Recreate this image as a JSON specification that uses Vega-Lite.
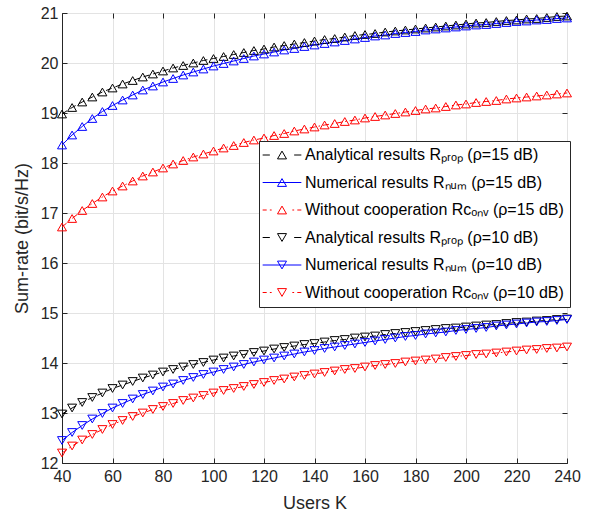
{
"$schema": "https://vega.github.io/schema/vega-lite/v6.json",
"width": 505,
"height": 450,
"autosize": "none",
"padding": {"left": 62, "top": 13, "right": 23, "bottom": 50},
"background": "white",
"config": {
  "view": {"stroke": "#262626", "strokeWidth": 1},
  "font": "Liberation Sans",
  "axis": {"gridColor": "#e3e3e3", "gridWidth": 1, "domainColor": "#262626", "tickColor": "#262626", "labelColor": "#262626", "titleColor": "#262626", "labelFont": "Liberation Sans", "titleFont": "Liberation Sans", "labelFontSize": 16, "titleFontSize": 18, "titleFontWeight": "normal", "tickSize": -5, "tickWidth": 1, "labelFlush": false}
},
"datasets": {"d": [
{"s":"a15","K":40,"v":18.98},{"s":"a15","K":44,"v":19.11},{"s":"a15","K":48,"v":19.22},{"s":"a15","K":52,"v":19.32},{"s":"a15","K":56,"v":19.42},{"s":"a15","K":60,"v":19.50},{"s":"a15","K":64,"v":19.58},{"s":"a15","K":68,"v":19.65},{"s":"a15","K":72,"v":19.72},{"s":"a15","K":76,"v":19.78},{"s":"a15","K":80,"v":19.84},{"s":"a15","K":84,"v":19.90},{"s":"a15","K":88,"v":19.95},{"s":"a15","K":92,"v":20.00},{"s":"a15","K":96,"v":20.05},{"s":"a15","K":100,"v":20.09},{"s":"a15","K":104,"v":20.13},{"s":"a15","K":108,"v":20.17},{"s":"a15","K":112,"v":20.21},{"s":"a15","K":116,"v":20.25},{"s":"a15","K":120,"v":20.28},{"s":"a15","K":124,"v":20.32},{"s":"a15","K":128,"v":20.35},{"s":"a15","K":132,"v":20.38},{"s":"a15","K":136,"v":20.41},{"s":"a15","K":140,"v":20.44},{"s":"a15","K":144,"v":20.47},{"s":"a15","K":148,"v":20.49},{"s":"a15","K":152,"v":20.52},{"s":"a15","K":156,"v":20.55},{"s":"a15","K":160,"v":20.57},{"s":"a15","K":164,"v":20.59},{"s":"a15","K":168,"v":20.62},{"s":"a15","K":172,"v":20.64},{"s":"a15","K":176,"v":20.66},{"s":"a15","K":180,"v":20.68},{"s":"a15","K":184,"v":20.70},{"s":"a15","K":188,"v":20.72},{"s":"a15","K":192,"v":20.74},{"s":"a15","K":196,"v":20.76},{"s":"a15","K":200,"v":20.78},{"s":"a15","K":204,"v":20.80},{"s":"a15","K":208,"v":20.81},{"s":"a15","K":212,"v":20.83},{"s":"a15","K":216,"v":20.85},{"s":"a15","K":220,"v":20.86},{"s":"a15","K":224,"v":20.88},{"s":"a15","K":228,"v":20.89},{"s":"a15","K":232,"v":20.91},{"s":"a15","K":236,"v":20.93},{"s":"a15","K":240,"v":20.94},
{"s":"n15","K":40,"v":18.36},{"s":"n15","K":44,"v":18.56},{"s":"n15","K":48,"v":18.73},{"s":"n15","K":52,"v":18.89},{"s":"n15","K":56,"v":19.03},{"s":"n15","K":60,"v":19.15},{"s":"n15","K":64,"v":19.26},{"s":"n15","K":68,"v":19.36},{"s":"n15","K":72,"v":19.46},{"s":"n15","K":76,"v":19.54},{"s":"n15","K":80,"v":19.62},{"s":"n15","K":84,"v":19.69},{"s":"n15","K":88,"v":19.76},{"s":"n15","K":92,"v":19.82},{"s":"n15","K":96,"v":19.88},{"s":"n15","K":100,"v":19.94},{"s":"n15","K":104,"v":19.99},{"s":"n15","K":108,"v":20.04},{"s":"n15","K":112,"v":20.09},{"s":"n15","K":116,"v":20.14},{"s":"n15","K":120,"v":20.18},{"s":"n15","K":124,"v":20.22},{"s":"n15","K":128,"v":20.26},{"s":"n15","K":132,"v":20.29},{"s":"n15","K":136,"v":20.33},{"s":"n15","K":140,"v":20.36},{"s":"n15","K":144,"v":20.39},{"s":"n15","K":148,"v":20.42},{"s":"n15","K":152,"v":20.45},{"s":"n15","K":156,"v":20.48},{"s":"n15","K":160,"v":20.51},{"s":"n15","K":164,"v":20.54},{"s":"n15","K":168,"v":20.56},{"s":"n15","K":172,"v":20.59},{"s":"n15","K":176,"v":20.61},{"s":"n15","K":180,"v":20.63},{"s":"n15","K":184,"v":20.66},{"s":"n15","K":188,"v":20.68},{"s":"n15","K":192,"v":20.70},{"s":"n15","K":196,"v":20.72},{"s":"n15","K":200,"v":20.74},{"s":"n15","K":204,"v":20.76},{"s":"n15","K":208,"v":20.77},{"s":"n15","K":212,"v":20.79},{"s":"n15","K":216,"v":20.81},{"s":"n15","K":220,"v":20.83},{"s":"n15","K":224,"v":20.84},{"s":"n15","K":228,"v":20.86},{"s":"n15","K":232,"v":20.87},{"s":"n15","K":236,"v":20.89},{"s":"n15","K":240,"v":20.90},
{"s":"c15","K":40,"v":16.72},{"s":"c15","K":44,"v":16.89},{"s":"c15","K":48,"v":17.05},{"s":"c15","K":52,"v":17.19},{"s":"c15","K":56,"v":17.32},{"s":"c15","K":60,"v":17.44},{"s":"c15","K":64,"v":17.54},{"s":"c15","K":68,"v":17.64},{"s":"c15","K":72,"v":17.74},{"s":"c15","K":76,"v":17.82},{"s":"c15","K":80,"v":17.90},{"s":"c15","K":84,"v":17.98},{"s":"c15","K":88,"v":18.05},{"s":"c15","K":92,"v":18.12},{"s":"c15","K":96,"v":18.18},{"s":"c15","K":100,"v":18.24},{"s":"c15","K":104,"v":18.30},{"s":"c15","K":108,"v":18.35},{"s":"c15","K":112,"v":18.41},{"s":"c15","K":116,"v":18.46},{"s":"c15","K":120,"v":18.50},{"s":"c15","K":124,"v":18.55},{"s":"c15","K":128,"v":18.59},{"s":"c15","K":132,"v":18.64},{"s":"c15","K":136,"v":18.68},{"s":"c15","K":140,"v":18.72},{"s":"c15","K":144,"v":18.76},{"s":"c15","K":148,"v":18.79},{"s":"c15","K":152,"v":18.83},{"s":"c15","K":156,"v":18.86},{"s":"c15","K":160,"v":18.90},{"s":"c15","K":164,"v":18.93},{"s":"c15","K":168,"v":18.96},{"s":"c15","K":172,"v":18.99},{"s":"c15","K":176,"v":19.02},{"s":"c15","K":180,"v":19.05},{"s":"c15","K":184,"v":19.08},{"s":"c15","K":188,"v":19.10},{"s":"c15","K":192,"v":19.13},{"s":"c15","K":196,"v":19.16},{"s":"c15","K":200,"v":19.18},{"s":"c15","K":204,"v":19.21},{"s":"c15","K":208,"v":19.23},{"s":"c15","K":212,"v":19.25},{"s":"c15","K":216,"v":19.28},{"s":"c15","K":220,"v":19.30},{"s":"c15","K":224,"v":19.32},{"s":"c15","K":228,"v":19.34},{"s":"c15","K":232,"v":19.36},{"s":"c15","K":236,"v":19.38},{"s":"c15","K":240,"v":19.40},
{"s":"a10","K":40,"v":12.98},{"s":"a10","K":44,"v":13.10},{"s":"a10","K":48,"v":13.21},{"s":"a10","K":52,"v":13.31},{"s":"a10","K":56,"v":13.40},{"s":"a10","K":60,"v":13.49},{"s":"a10","K":64,"v":13.56},{"s":"a10","K":68,"v":13.63},{"s":"a10","K":72,"v":13.70},{"s":"a10","K":76,"v":13.76},{"s":"a10","K":80,"v":13.82},{"s":"a10","K":84,"v":13.87},{"s":"a10","K":88,"v":13.92},{"s":"a10","K":92,"v":13.97},{"s":"a10","K":96,"v":14.01},{"s":"a10","K":100,"v":14.06},{"s":"a10","K":104,"v":14.10},{"s":"a10","K":108,"v":14.14},{"s":"a10","K":112,"v":14.17},{"s":"a10","K":116,"v":14.21},{"s":"a10","K":120,"v":14.24},{"s":"a10","K":124,"v":14.28},{"s":"a10","K":128,"v":14.31},{"s":"a10","K":132,"v":14.34},{"s":"a10","K":136,"v":14.37},{"s":"a10","K":140,"v":14.39},{"s":"a10","K":144,"v":14.42},{"s":"a10","K":148,"v":14.45},{"s":"a10","K":152,"v":14.47},{"s":"a10","K":156,"v":14.50},{"s":"a10","K":160,"v":14.52},{"s":"a10","K":164,"v":14.54},{"s":"a10","K":168,"v":14.57},{"s":"a10","K":172,"v":14.59},{"s":"a10","K":176,"v":14.61},{"s":"a10","K":180,"v":14.63},{"s":"a10","K":184,"v":14.65},{"s":"a10","K":188,"v":14.67},{"s":"a10","K":192,"v":14.69},{"s":"a10","K":196,"v":14.70},{"s":"a10","K":200,"v":14.72},{"s":"a10","K":204,"v":14.74},{"s":"a10","K":208,"v":14.76},{"s":"a10","K":212,"v":14.77},{"s":"a10","K":216,"v":14.79},{"s":"a10","K":220,"v":14.81},{"s":"a10","K":224,"v":14.82},{"s":"a10","K":228,"v":14.84},{"s":"a10","K":232,"v":14.85},{"s":"a10","K":236,"v":14.87},{"s":"a10","K":240,"v":14.88},
{"s":"n10","K":40,"v":12.45},{"s":"n10","K":44,"v":12.61},{"s":"n10","K":48,"v":12.75},{"s":"n10","K":52,"v":12.88},{"s":"n10","K":56,"v":12.99},{"s":"n10","K":60,"v":13.10},{"s":"n10","K":64,"v":13.19},{"s":"n10","K":68,"v":13.28},{"s":"n10","K":72,"v":13.37},{"s":"n10","K":76,"v":13.44},{"s":"n10","K":80,"v":13.52},{"s":"n10","K":84,"v":13.58},{"s":"n10","K":88,"v":13.65},{"s":"n10","K":92,"v":13.71},{"s":"n10","K":96,"v":13.77},{"s":"n10","K":100,"v":13.82},{"s":"n10","K":104,"v":13.87},{"s":"n10","K":108,"v":13.92},{"s":"n10","K":112,"v":13.97},{"s":"n10","K":116,"v":14.02},{"s":"n10","K":120,"v":14.06},{"s":"n10","K":124,"v":14.10},{"s":"n10","K":128,"v":14.14},{"s":"n10","K":132,"v":14.18},{"s":"n10","K":136,"v":14.22},{"s":"n10","K":140,"v":14.25},{"s":"n10","K":144,"v":14.29},{"s":"n10","K":148,"v":14.32},{"s":"n10","K":152,"v":14.35},{"s":"n10","K":156,"v":14.38},{"s":"n10","K":160,"v":14.41},{"s":"n10","K":164,"v":14.44},{"s":"n10","K":168,"v":14.47},{"s":"n10","K":172,"v":14.50},{"s":"n10","K":176,"v":14.53},{"s":"n10","K":180,"v":14.55},{"s":"n10","K":184,"v":14.58},{"s":"n10","K":188,"v":14.60},{"s":"n10","K":192,"v":14.62},{"s":"n10","K":196,"v":14.65},{"s":"n10","K":200,"v":14.67},{"s":"n10","K":204,"v":14.69},{"s":"n10","K":208,"v":14.71},{"s":"n10","K":212,"v":14.74},{"s":"n10","K":216,"v":14.76},{"s":"n10","K":220,"v":14.78},{"s":"n10","K":224,"v":14.80},{"s":"n10","K":228,"v":14.82},{"s":"n10","K":232,"v":14.83},{"s":"n10","K":236,"v":14.85},{"s":"n10","K":240,"v":14.87},
{"s":"c10","K":40,"v":12.20},{"s":"c10","K":44,"v":12.34},{"s":"c10","K":48,"v":12.46},{"s":"c10","K":52,"v":12.57},{"s":"c10","K":56,"v":12.67},{"s":"c10","K":60,"v":12.77},{"s":"c10","K":64,"v":12.85},{"s":"c10","K":68,"v":12.93},{"s":"c10","K":72,"v":13.00},{"s":"c10","K":76,"v":13.07},{"s":"c10","K":80,"v":13.13},{"s":"c10","K":84,"v":13.19},{"s":"c10","K":88,"v":13.25},{"s":"c10","K":92,"v":13.30},{"s":"c10","K":96,"v":13.35},{"s":"c10","K":100,"v":13.40},{"s":"c10","K":104,"v":13.45},{"s":"c10","K":108,"v":13.49},{"s":"c10","K":112,"v":13.53},{"s":"c10","K":116,"v":13.57},{"s":"c10","K":120,"v":13.61},{"s":"c10","K":124,"v":13.65},{"s":"c10","K":128,"v":13.68},{"s":"c10","K":132,"v":13.72},{"s":"c10","K":136,"v":13.75},{"s":"c10","K":140,"v":13.78},{"s":"c10","K":144,"v":13.81},{"s":"c10","K":148,"v":13.84},{"s":"c10","K":152,"v":13.87},{"s":"c10","K":156,"v":13.89},{"s":"c10","K":160,"v":13.92},{"s":"c10","K":164,"v":13.95},{"s":"c10","K":168,"v":13.97},{"s":"c10","K":172,"v":13.99},{"s":"c10","K":176,"v":14.02},{"s":"c10","K":180,"v":14.04},{"s":"c10","K":184,"v":14.06},{"s":"c10","K":188,"v":14.08},{"s":"c10","K":192,"v":14.11},{"s":"c10","K":196,"v":14.13},{"s":"c10","K":200,"v":14.15},{"s":"c10","K":204,"v":14.17},{"s":"c10","K":208,"v":14.18},{"s":"c10","K":212,"v":14.20},{"s":"c10","K":216,"v":14.22},{"s":"c10","K":220,"v":14.24},{"s":"c10","K":224,"v":14.26},{"s":"c10","K":228,"v":14.27},{"s":"c10","K":232,"v":14.29},{"s":"c10","K":236,"v":14.30},{"s":"c10","K":240,"v":14.32}
]},
"data": {"name": "d"},
"resolve": {"axis": {"x": "independent", "y": "independent"}},
"layer": [
  {
    "transform": [{"filter": {"field": "K", "lt": 0}}],
    "mark": {"type": "point", "filled": false, "size": 81, "strokeWidth": 1},
    "encoding": {
      "x": {"field": "K", "type": "quantitative", "axis": null},
      "y": {"field": "v", "type": "quantitative", "axis": null},
      "color": {"field": "s", "type": "nominal",
        "scale": {"domain": ["a15","n15","c15","a10","n10","c10"], "range": ["#000000","#0000ff","#ff0000","#000000","#0000ff","#ff0000"]},
        "legend": {"title": null, "orient": "none", "legendX": 197, "legendY": 128, "fillColor": "white", "strokeColor": "#262626", "padding": 6, "rowPadding": 11.5, "symbolSize": 81, "symbolStrokeWidth": 1, "symbolOpacity": 1, "symbolOffset": 9, "labelOffset": 15, "labelFontSize": 16, "labelFont": "Liberation Sans", "labelColor": "#000000", "labelLimit": 400,
          "labelExpr": "datum.value == 'a15' ? 'Analytical results Rₚᵣₒₚ (ρ=15 dB)' : datum.value == 'n15' ? 'Numerical results Rₙᵤₘ (ρ=15 dB)' : datum.value == 'c15' ? 'Without cooperation Rᴄₒₙᵥ (ρ=15 dB)' : datum.value == 'a10' ? 'Analytical results Rₚᵣₒₚ (ρ=10 dB)' : datum.value == 'n10' ? 'Numerical results Rₙᵤₘ (ρ=10 dB)' : 'Without cooperation Rᴄₒₙᵥ (ρ=10 dB)'"}},
      "shape": {"field": "s", "type": "nominal",
        "scale": {"domain": ["a15","n15","c15","a10","n10","c10"], "range": [
          "M-4.3,0H-2.7M2.7,0H4.3M0,-0.866L1,0.866L-1,0.866Z",
          "M-4.3,0H4.3M0,-0.866L1,0.866L-1,0.866Z",
          "M-4.3,0H-3.4M-2.7,0H-2.3M2.3,0H2.7M3.4,0H4.3M0,-0.866L1,0.866L-1,0.866Z",
          "M-4.3,0H-2.7M2.7,0H4.3M0,0.866L1,-0.866L-1,-0.866Z",
          "M-4.3,0H4.3M0,0.866L1,-0.866L-1,-0.866Z",
          "M-4.3,0H-3.4M-2.7,0H-2.3M2.3,0H2.7M3.4,0H4.3M0,0.866L1,-0.866L-1,-0.866Z"]},
        "legend": {"title": null, "orient": "none", "legendX": 197, "legendY": 128, "fillColor": "white", "strokeColor": "#262626", "padding": 6, "rowPadding": 11.5, "symbolSize": 81, "symbolStrokeWidth": 1, "symbolOpacity": 1, "symbolOffset": 9, "labelOffset": 15, "labelFontSize": 16, "labelFont": "Liberation Sans", "labelColor": "#000000", "labelLimit": 400,
          "labelExpr": "datum.value == 'a15' ? 'Analytical results Rₚᵣₒₚ (ρ=15 dB)' : datum.value == 'n15' ? 'Numerical results Rₙᵤₘ (ρ=15 dB)' : datum.value == 'c15' ? 'Without cooperation Rᴄₒₙᵥ (ρ=15 dB)' : datum.value == 'a10' ? 'Analytical results Rₚᵣₒₚ (ρ=10 dB)' : datum.value == 'n10' ? 'Numerical results Rₙᵤₘ (ρ=10 dB)' : 'Without cooperation Rᴄₒₙᵥ (ρ=10 dB)'"}}
    }
  },
  {
    "transform": [{"filter": {"field": "s", "oneOf": ["a15","a10"]}}],
    "mark": {"type": "line", "strokeWidth": 1, "strokeDash": [6, 4]},
    "encoding": {
      "x": {"field": "K", "type": "quantitative", "scale": {"domain": [40, 240], "nice": false, "zero": false},
            "axis": {"orient": "bottom", "values": [40,60,80,100,120,140,160,180,200,220,240], "grid": true, "title": "Users K", "labelPadding": 10, "titlePadding": 10, "domain": true}},
      "y": {"field": "v", "type": "quantitative", "scale": {"domain": [12, 21], "nice": false, "zero": false},
            "axis": {"orient": "left", "values": [12,13,14,15,16,17,18,19,20,21], "grid": true, "title": "Sum-rate (bit/s/Hz)", "labelPadding": 9, "titlePadding": 9, "domain": true}},
      "color": {"field": "s", "type": "nominal"}
    }
  },
  {
    "transform": [{"filter": {"field": "s", "oneOf": ["n15","n10"]}}],
    "mark": {"type": "line", "strokeWidth": 1},
    "encoding": {
      "x": {"field": "K", "type": "quantitative", "axis": null},
      "y": {"field": "v", "type": "quantitative", "axis": null},
      "color": {"field": "s", "type": "nominal"}
    }
  },
  {
    "transform": [{"filter": {"field": "s", "oneOf": ["c15","c10"]}}],
    "mark": {"type": "line", "strokeWidth": 1, "strokeDash": [6, 3, 1.5, 3]},
    "encoding": {
      "x": {"field": "K", "type": "quantitative", "axis": null},
      "y": {"field": "v", "type": "quantitative", "axis": null},
      "color": {"field": "s", "type": "nominal"}
    }
  },
  {
    "transform": [{"filter": {"field": "s", "oneOf": ["a15","n15","c15"]}}],
    "mark": {"type": "point", "shape": "triangle-up", "filled": false, "size": 80, "strokeWidth": 1, "opacity": 1},
    "encoding": {
      "x": {"field": "K", "type": "quantitative", "axis": {"orient": "top", "values": [40,60,80,100,120,140,160,180,200,220,240], "labels": false, "grid": false, "title": null, "domain": false}},
      "y": {"field": "v", "type": "quantitative", "axis": {"orient": "right", "values": [12,13,14,15,16,17,18,19,20,21], "labels": false, "grid": false, "title": null, "domain": false}},
      "color": {"field": "s", "type": "nominal"}
    }
  },
  {
    "transform": [{"filter": {"field": "s", "oneOf": ["a10","n10","c10"]}}],
    "mark": {"type": "point", "shape": "triangle-down", "filled": false, "size": 80, "strokeWidth": 1, "opacity": 1},
    "encoding": {
      "x": {"field": "K", "type": "quantitative", "axis": null},
      "y": {"field": "v", "type": "quantitative", "axis": null},
      "color": {"field": "s", "type": "nominal"}
    }
  }
]
}
